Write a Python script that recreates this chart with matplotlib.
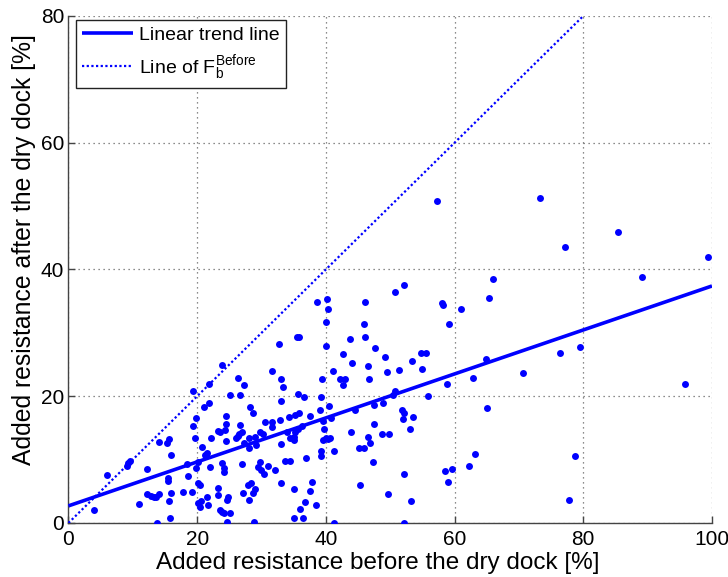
import matplotlib
matplotlib.use("Agg")
import matplotlib.pyplot as plt
import numpy as np

plt.rcParams['font.family'] = ['Liberation Sans', 'DejaVu Sans']
plt.rcParams['mathtext.fontset'] = 'custom'
plt.rcParams['mathtext.rm'] = 'Liberation Sans'
plt.rcParams['mathtext.it'] = 'Liberation Sans'
plt.rcParams['mathtext.default'] = 'regular'

# Added resistance [%] before (x) and after (y) the dry dock
before = [
    3.9, 6.0, 9.1, 9.3, 9.6, 10.9, 12.2, 12.2, 12.8, 13.3, 13.6, 14.1, 13.8,
    14.0, 15.3, 15.6, 15.9, 15.4, 15.5, 15.7, 15.8, 16.0, 17.8, 18.4, 18.6,
    19.2, 19.3, 19.3, 19.6, 19.8, 19.9, 20.2,
    20.2, 20.5, 20.2, 20.6, 20.4, 21.7, 20.7, 21.0, 21.2, 21.5, 21.6, 21.8,
    21.8, 22.0, 22.1, 23.2, 23.3, 23.3, 23.6, 24.3, 24.5, 24.5, 23.6, 23.8,
    24.1, 25.1, 23.8, 23.8, 24.1, 24.1, 24.5, 24.6, 24.8, 24.6, 25.1, 26.1,
    26.3, 26.5, 26.7, 27.0, 26.4, 26.6, 27.0, 27.2, 27.3, 27.3, 27.9, 28.4,
    28.0, 28.0, 28.0, 28.2, 28.7, 28.7, 28.9, 29.0, 29.0, 29.2, 29.5, 29.8,
    30.0, 30.4, 31.0, 29.7, 30.3,
    30.5, 31.7, 31.7, 31.6, 32.1, 32.7, 32.9, 33.0, 33.0, 33.0, 33.1, 33.4,
    33.6, 34.5, 33.9, 34.2, 34.4, 35.0, 35.1, 35.1, 35.1, 35.2, 35.2, 35.6,
    36.3, 35.5, 35.8, 35.6, 35.8, 36.0, 36.5, 36.6, 36.7, 36.9, 37.5, 37.5,
    37.9, 38.4, 38.6, 39.1, 39.3, 39.3, 39.3, 39.4, 39.5, 39.7, 39.6, 40.0,
    40.3, 40.6, 40.0, 40.1, 40.2, 40.3, 40.5, 40.8,
    41.1, 41.3, 41.3, 42.2, 42.9, 42.6, 42.7, 43.7, 43.9, 44.0, 44.5, 45.1,
    45.9, 45.3, 45.9, 46.1, 46.1, 46.5, 46.6, 46.8, 46.7, 47.4, 47.5, 47.5,
    47.7, 48.7, 48.9, 49.2, 49.5, 49.7, 49.8, 50.5, 50.7, 50.7, 51.3, 51.8,
    52.2, 52.0, 52.1, 52.1, 52.1, 53.0, 53.2, 53.4, 53.6, 54.8, 55.6, 55.0,
    55.9, 57.3, 58.0, 58.2, 58.5, 58.8, 59.0, 59.1, 59.6,
    61.0, 62.2, 62.8, 63.1, 64.9, 65.1, 65.3, 65.9, 70.6, 73.3, 76.4, 77.1,
    77.8, 78.7, 79.5, 85.4, 89.2, 95.8, 99.4,
]
after = [
    2.0, 7.5, 9.0, 9.4, 9.8, 3.0, 8.5, 4.5, 4.3, 4.1, 4.1, 4.5, 0.05,
    12.8, 12.7, 13.2, 10.8, 7.05, 6.7, 3.4, 0.8, 4.8, 4.9, 9.3, 7.4,
    4.9, 20.9, 15.3, 13.4, 16.6, 8.6, 9.7,
    6.3, 6.0, 3.1, 3.4, 2.6, 2.8, 12.0, 18.3, 10.7, 11.0, 4.1, 22.0,
    19.0, 8.9, 13.4, 4.4, 5.6, 14.5, 14.4, 14.7, 15.6, 16.9, 2.05, 1.8,
    1.5, 1.5, 25.0, 9.4, 8.6, 8.1, 12.9, 0.1, 4.1, 3.6, 20.2, 13.4,
    13.7, 14.1, 15.5, 14.4, 22.8, 20.2, 9.3, 4.7, 21.7, 12.6, 6.0, 6.3,
    3.6, 11.8, 13.4, 18.3, 17.3, 4.7, 0.1, 5.3, 13.5, 12.3, 8.9, 9.7,
    8.4, 7.8, 9.0, 14.4, 14.1,
    15.9, 15.9, 15.2, 24.0, 8.4, 28.3, 16.2, 19.2, 12.4, 6.3, 22.7, 21.4,
    9.8, 9.8, 14.4, 16.8, 13.4, 13.1, 13.6, 5.4, 0.8, 17.0, 14.4, 14.9,
    15.3, 29.3, 29.4, 20.3, 17.3, 2.2, 0.8, 19.9, 3.3, 10.3, 16.9, 5.1,
    6.4, 2.9, 34.9, 17.8, 11.4, 10.5, 19.9, 22.7, 16.1, 14.8, 13.1, 13.4,
    13.3, 13.4, 31.7, 28.0, 35.4, 33.7, 18.5, 16.6,
    24.0, 11.4, 0.0, 22.7, 22.7, 21.8, 26.7, 29.0, 14.3, 25.3, 17.8, 11.9,
    11.8, 6.0, 31.4, 34.9, 29.4, 24.8, 13.5, 12.7, 22.7, 9.7, 18.6, 15.6,
    27.6, 14.1, 18.9, 26.2, 23.9, 4.5, 14.0, 20.2, 20.8, 36.4, 24.2, 17.8,
    17.4, 16.4, 7.8, 0.0, 37.5, 14.9, 3.5, 25.6, 16.8, 26.8, 26.8, 24.3,
    20.1, 50.8, 34.7, 34.4, 8.2, 21.9, 6.5, 31.4, 8.5,
    33.8, 9.0, 22.8, 10.9, 25.8, 18.1, 35.5, 38.5, 23.7, 51.3, 26.8, 43.6,
    3.7, 10.6, 27.7, 45.9, 38.8, 22.0, 42.0,
]

# Linear trend line coefficients (intercept, slope) and its x range
trend_intercept = 2.7
trend_slope = 0.347
trend_x = [0, 100]

# Reference line F_b^Before: after = before
ref_x = [0, 80]

x_ticks = [0, 20, 40, 60, 80, 100]
y_ticks = [0, 20, 40, 60, 80]

BLUE = '#0000ff'

fig = plt.figure(figsize=(7.28, 5.77), dpi=100)
ax = fig.add_axes([0.094, 0.0936, 0.884, 0.8787])

tx = np.array(trend_x, dtype=float)
ax.plot(tx, trend_intercept + trend_slope * tx, color=BLUE, lw=2.6,
        solid_capstyle='butt', label='Linear trend line', zorder=3)
ax.plot(ref_x, ref_x, color=BLUE, lw=1.6, linestyle=(0, (1, 1.1)),
        label=r'Line of F$_{b}^{Before}$', zorder=3)
ax.plot(before, after, linestyle='none', marker='o', markersize=5.0,
        color=BLUE, markeredgewidth=0, zorder=4)

ax.set_xlim(0, 100)
ax.set_ylim(0, 80)
ax.set_xticks(x_ticks)
ax.set_yticks(y_ticks)
ax.grid(True, color='#666666', linestyle=(0, (1, 3)), linewidth=0.9)
ax.set_axisbelow(True)

for s in ('top', 'right'):
    ax.spines[s].set_visible(False)
for s in ('left', 'bottom'):
    ax.spines[s].set_color('#444444')
    ax.spines[s].set_linewidth(1.0)

ax.tick_params(direction='in', length=5, width=1.0, color='#444444',
               labelsize=15)
ax.tick_params(axis='x', pad=5)
ax.tick_params(axis='y', pad=3)

ax.set_xlabel('Added resistance before the dry dock [%]', fontsize=17.5)
ax.set_ylabel('Added resistance after the dry dock [%]', fontsize=17.8)
ax.xaxis.set_label_coords(0.48, -0.058)
ax.yaxis.set_label_coords(-0.05, 0.54)

leg = ax.legend(loc='upper left', bbox_to_anchor=(0.011, 0.993),
                borderaxespad=0, fontsize=14, frameon=True, fancybox=False,
                edgecolor='#222222', framealpha=1, handlelength=2.6,
                borderpad=0.35, labelspacing=0.45, handletextpad=0.3)
leg.get_frame().set_linewidth(1.0)

fig.savefig('out.png', dpi=100)
